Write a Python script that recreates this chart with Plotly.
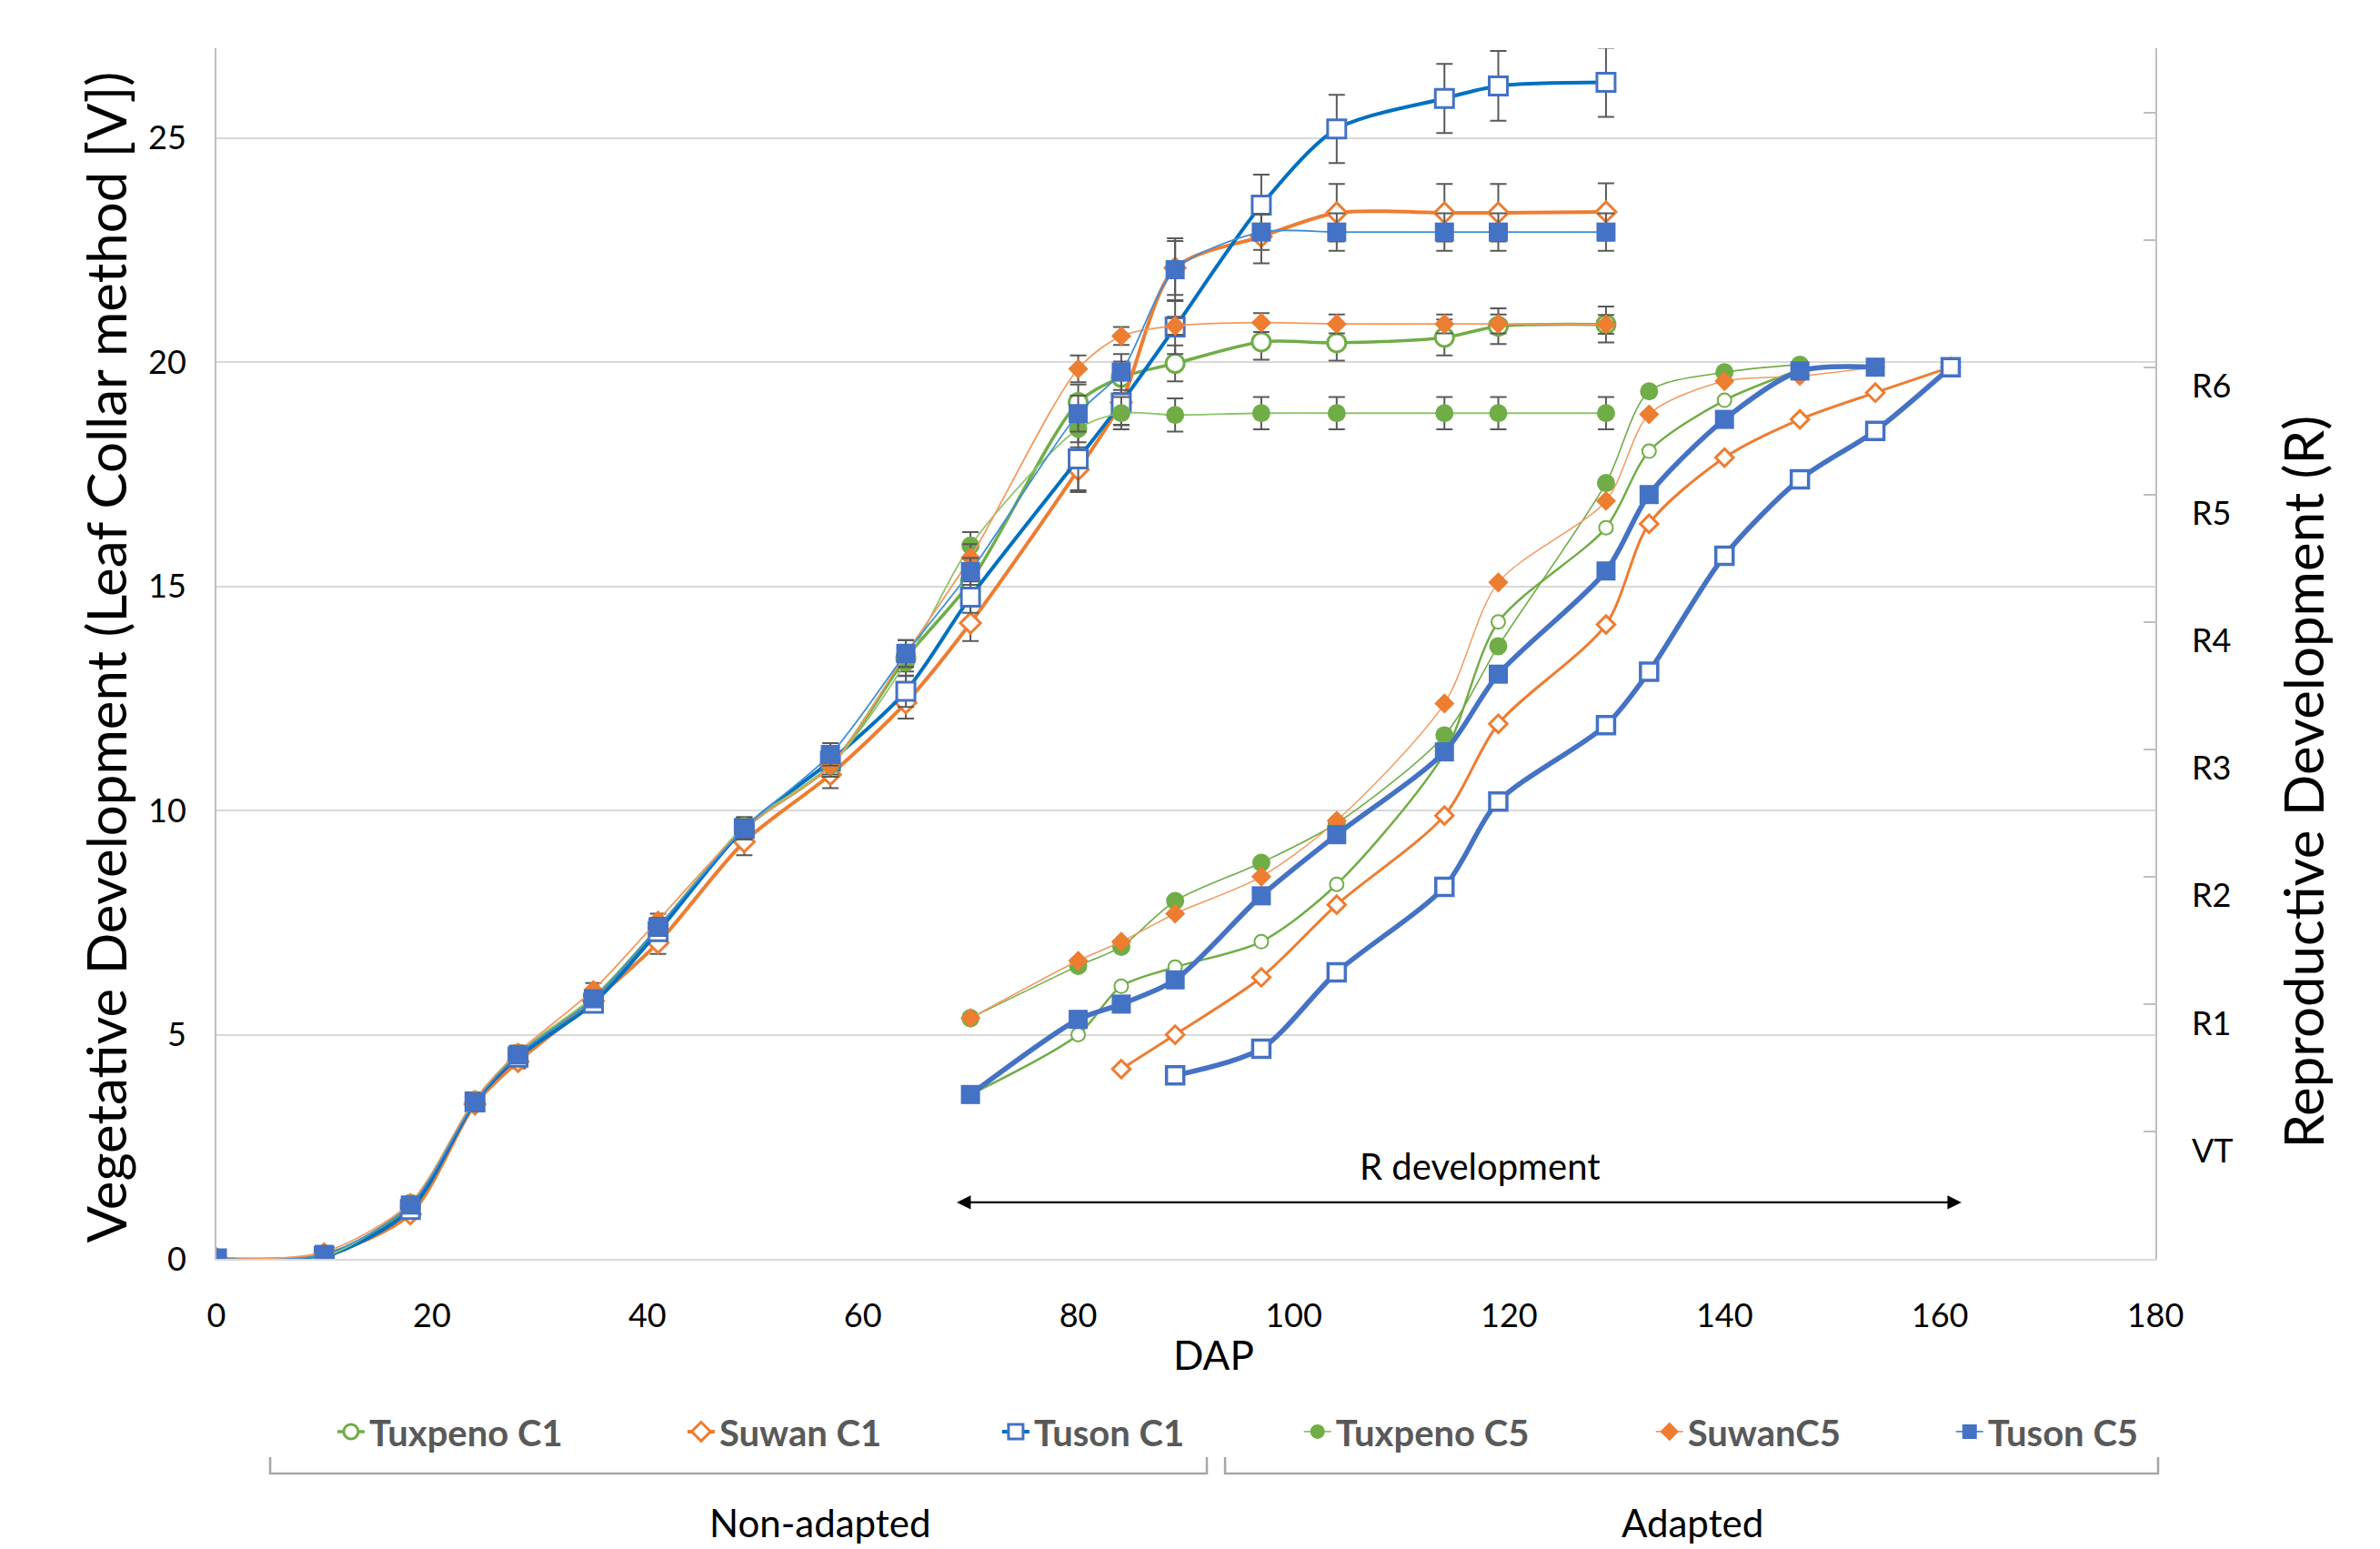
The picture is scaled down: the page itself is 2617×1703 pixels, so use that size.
import plotly.graph_objects as go

# ---------------- data ----------------
DAP_V = [0, 10, 18, 24, 28, 35, 41, 49, 57, 64, 70, 80, 84, 89, 97, 104, 114, 119, 129]

V_TUXPENO_C1 = [0, 0.05, 1.15, 3.5, 4.55, 5.8, 7.35, 9.6, 11.0, 13.4, 15.1, 19.1, 19.66, 19.97, 20.45, 20.43, 20.55, 20.8, 20.84]
V_SUWAN_C1 = [0, 0.1, 1.0, 3.45, 4.4, 5.75, 7.05, 9.3, 10.8, 12.4, 14.18, 17.6, 19.1, 22.1, 22.8, 23.33, 23.33, 23.33, 23.35]
V_TUSON_C1 = [0, 0.05, 1.1, 3.5, 4.5, 5.7, 7.3, 9.6, 11.1, 12.66, 14.76, 17.84, 19.09, 20.78, 23.5, 25.2, 25.88, 26.16, 26.24]
V_TUXPENO_C5 = [0, 0.05, 1.25, 3.55, 4.6, 5.85, 7.4, 9.65, 11.0, 13.3, 15.91, 18.51, 18.86, 18.82, 18.86, 18.86, 18.86, 18.86, 18.86]
V_SUWAN_C5 = [0, 0.15, 1.25, 3.55, 4.6, 6.0, 7.55, 9.6, 11.0, 13.5, 15.64, 19.85, 20.58, 20.81, 20.88, 20.85, 20.85, 20.85, 20.84]
V_TUSON_C5 = [0, 0.1, 1.2, 3.5, 4.55, 5.8, 7.4, 9.6, 11.25, 13.5, 15.33, 18.85, 19.78, 22.06, 22.9, 22.9, 22.9, 22.9, 22.9]

ERR_TUXPENO_C1 = [0, 0.05, 0.1, 0.15, 0.15, 0.15, 0.2, 0.2, 0.25, 0.3, 0.35, 0.4, 0.35, 0.4, 0.4, 0.4, 0.4, 0.4, 0.4]
ERR_SUWAN_C1 = [0, 0.05, 0.1, 0.15, 0.15, 0.15, 0.25, 0.3, 0.3, 0.35, 0.4, 0.5, 0.5, 0.6, 0.6, 0.64, 0.64, 0.64, 0.64]
ERR_TUSON_C1 = [0, 0.05, 0.1, 0.15, 0.15, 0.15, 0.2, 0.25, 0.3, 0.35, 0.35, 0.7, 0.5, 0.6, 0.68, 0.76, 0.77, 0.78, 0.77]
ERR_TUXPENO_C5 = [0, 0.05, 0.1, 0.15, 0.15, 0.15, 0.2, 0.2, 0.25, 0.3, 0.3, 0.3, 0.36, 0.37, 0.36, 0.36, 0.36, 0.36, 0.36]
ERR_SUWAN_C5 = [0, 0.05, 0.1, 0.15, 0.15, 0.15, 0.15, 0.2, 0.25, 0.3, 0.3, 0.3, 0.2, 0.2, 0.21, 0.21, 0.21, 0.21, 0.21]
ERR_TUSON_C5 = [0, 0.05, 0.1, 0.15, 0.15, 0.15, 0.2, 0.2, 0.25, 0.3, 0.3, 0.4, 0.4, 0.7, 0.4, 0.42, 0.42, 0.42, 0.42]

# Reproductive stage (secondary axis: VT=1, R1=2 ... R6=7)
R_DAP_TUXPENO_C1 = [70, 80, 84, 89, 97, 104, 114, 119, 129, 133, 140, 147]
R_TUXPENO_C1 = [1.29, 1.76, 2.14, 2.29, 2.49, 2.94, 3.97, 5.0, 5.74, 6.34, 6.74, 6.98]
R_DAP_TUXPENO_C5 = [70, 80, 84, 89, 97, 104, 114, 119, 129, 133, 140, 147]
R_TUXPENO_C5 = [1.89, 2.30, 2.45, 2.81, 3.11, 3.42, 4.11, 4.81, 6.09, 6.81, 6.96, 7.02]
R_DAP_SUWAN_C1 = [84, 89, 97, 104, 114, 119, 129, 133, 140, 147, 154, 161]
R_SUWAN_C1 = [1.49, 1.76, 2.21, 2.78, 3.48, 4.2, 4.98, 5.77, 6.29, 6.59, 6.80, 7.0]
R_DAP_SUWAN_C5 = [70, 80, 84, 89, 97, 104, 114, 119, 129, 133, 140, 147, 154]
R_SUWAN_C5 = [1.89, 2.34, 2.49, 2.71, 3.0, 3.44, 4.36, 5.31, 5.95, 6.63, 6.89, 6.93, 7.0]
R_DAP_TUSON_C1 = [89, 97, 104, 114, 119, 129, 133, 140, 147, 154, 161]
R_TUSON_C1 = [1.44, 1.65, 2.25, 2.92, 3.59, 4.19, 4.61, 5.52, 6.12, 6.5, 7.0]
R_DAP_TUSON_C5 = [70, 80, 84, 89, 97, 104, 114, 119, 129, 133, 140, 147, 154]
R_TUSON_C5 = [1.29, 1.88, 2.0, 2.19, 2.85, 3.33, 3.98, 4.59, 5.40, 6.0, 6.59, 6.97, 7.0]

SERIES_NAMES = ["Tuxpeno C1", "Suwan C1", "Tuson C1", "Tuxpeno C5", "SuwanC5", "Tuson C5"]
GROUP_LABELS = ["Non-adapted", "Adapted"]

X_TICKS = [0, 20, 40, 60, 80, 100, 120, 140, 160, 180]
Y_TICKS = [0, 5, 10, 15, 20, 25]
R_STAGE_VALUES = [1, 2, 3, 4, 5, 6, 7]
R_STAGE_LABELS = ["VT", "R1", "R2", "R3", "R4", "R5", "R6"]
Y2_TICKS = [0, 1, 2, 3, 4, 5, 6, 7, 8, 9]

ARROW_X = [68.6, 162.0]
ARROW_Y = 1.26

# ---------------- style ----------------
FONT = "Lato, 'Noto Sans', sans-serif"
GREEN = "#70AD47"
ORANGE = "#ED7D31"
BLUE_M = "#4472C4"
BLUE_L = "#0070C0"
GREEN_T = "#8CC46A"
ORANGE_T = "#F29A5E"
BLUE_T = "#3D8FD9"
ERRC = "#595959"

Y_RANGE = [0, 27]
Y2_RANGE = [0, 27 * 49.28 / 140]

fig = go.Figure()


def veg(name, y, err, lcolor, lwidth, marker, legend, lw):
    fig.add_trace(go.Scatter(
        x=DAP_V, y=y, name=name, mode="lines+markers",
        line=dict(color=lcolor, width=lwidth, shape="spline", smoothing=0.8),
        marker=marker,
        error_y=dict(type="data", array=err, color=ERRC, thickness=2, width=9),
        legend=legend, legendwidth=lw,
    ))


def rep(x, y, lcolor, lwidth, marker):
    fig.add_trace(go.Scatter(
        x=x, y=y, yaxis="y2", mode="lines+markers", showlegend=False,
        line=dict(color=lcolor, width=lwidth, shape="spline", smoothing=0.8),
        marker=marker,
    ))


veg(SERIES_NAMES[0], V_TUXPENO_C1, ERR_TUXPENO_C1, GREEN, 3.5,
    dict(symbol="circle", size=20, color="white", line=dict(color=GREEN, width=3)), "legend", 340)
veg(SERIES_NAMES[1], V_SUWAN_C1, ERR_SUWAN_C1, ORANGE, 4,
    dict(symbol="diamond", size=17, color="white", line=dict(color=ORANGE, width=3)), "legend", 301)
veg(SERIES_NAMES[2], V_TUSON_C1, ERR_TUSON_C1, BLUE_L, 4,
    dict(symbol="square", size=20, color="white", line=dict(color=BLUE_M, width=3)), "legend", 250)
veg(SERIES_NAMES[3], V_TUXPENO_C5, ERR_TUXPENO_C5, GREEN_T, 1.8,
    dict(symbol="circle", size=20, color=GREEN), "legend2", 342)
veg(SERIES_NAMES[4], V_SUWAN_C5, ERR_SUWAN_C5, ORANGE_T, 1.8,
    dict(symbol="diamond", size=17, color=ORANGE), "legend2", 285)
veg(SERIES_NAMES[5], V_TUSON_C5, ERR_TUSON_C5, BLUE_T, 1.8,
    dict(symbol="square", size=21, color=BLUE_M), "legend2", 250)

rep(R_DAP_TUXPENO_C1, R_TUXPENO_C1, GREEN, 2.5,
    dict(symbol="circle", size=15, color="white", line=dict(color=GREEN, width=2)))
rep(R_DAP_SUWAN_C1, R_SUWAN_C1, ORANGE, 3,
    dict(symbol="diamond", size=15, color="white", line=dict(color=ORANGE, width=3)))
rep(R_DAP_TUSON_C1, R_TUSON_C1, BLUE_M, 5.5,
    dict(symbol="square", size=19, color="white", line=dict(color=BLUE_M, width=3.5)))
rep(R_DAP_TUXPENO_C5, R_TUXPENO_C5, GREEN, 1.6,
    dict(symbol="circle", size=20, color=GREEN))
rep(R_DAP_SUWAN_C5, R_SUWAN_C5, ORANGE_T, 1.5,
    dict(symbol="diamond", size=17, color=ORANGE))
rep(R_DAP_TUSON_C5, R_TUSON_C5, BLUE_M, 5.5,
    dict(symbol="square", size=21, color=BLUE_M))

annotations = []
# right-axis stage labels
for v, lab in zip(R_STAGE_VALUES, R_STAGE_LABELS):
    annotations.append(dict(x=1.0178, xref="paper", y=v - 0.14, yref="y2", text=lab,
                            showarrow=False, xanchor="left", yanchor="middle",
                            font=dict(family=FONT, size=36, color="black")))
# axis titles
annotations.append(dict(x=-0.0568, xref="paper", y=0.497, yref="paper",
                        text="Vegetative Development (Leaf Collar method [V])",
                        textangle=-90, showarrow=False, xanchor="center", yanchor="middle",
                        font=dict(family=FONT, size=60, color="black")))
annotations.append(dict(x=1.076, xref="paper", y=0.394, yref="paper",
                        text="Reproductive Development (R)",
                        textangle=-90, showarrow=False, xanchor="center", yanchor="middle",
                        font=dict(family=FONT, size=60, color="black")))
annotations.append(dict(x=0.5145, xref="paper", y=-0.0789, yref="paper", text="DAP",
                        showarrow=False, xanchor="center", yanchor="middle",
                        font=dict(family=FONT, size=44, color="black")))
# R development arrow
annotations.append(dict(x=ARROW_X[1], y=ARROW_Y, xref="x", yref="y",
                        ax=ARROW_X[0], ay=ARROW_Y, axref="x", ayref="y",
                        text="", showarrow=True, arrowhead=2, arrowside="end+start",
                        arrowsize=1.4, arrowwidth=2.2, arrowcolor="black", standoff=0,
                        startstandoff=0))
annotations.append(dict(x=117.3, y=2.07, xref="x", yref="y", text="R development",
                        showarrow=False, xanchor="center", yanchor="middle",
                        font=dict(family=FONT, size=40, color="black")))
# group labels
annotations.append(dict(x=0.311, xref="paper", y=-0.2179, yref="paper", text=GROUP_LABELS[0],
                        showarrow=False, xanchor="center", yanchor="middle",
                        font=dict(family=FONT, size=42, color="black")))
annotations.append(dict(x=0.7613, xref="paper", y=-0.2179, yref="paper", text=GROUP_LABELS[1],
                        showarrow=False, xanchor="center", yanchor="middle",
                        font=dict(family=FONT, size=42, color="black")))

shapes = []
for x0, x1 in [(0.0277, 0.5108), (0.5202, 1.0014)]:
    shapes.append(dict(type="path", xref="paper", yref="paper",
                       path=f"M {x0},-0.1638 L {x0},-0.1773 L {x1},-0.1773 L {x1},-0.1638",
                       line=dict(color="#a6a6a6", width=2.5)))

legend_style = dict(orientation="h", xanchor="left", y=-0.1427, yanchor="middle",
                    font=dict(family=FONT, size=40, color="#595959", weight="bold"),
                    bgcolor="rgba(0,0,0,0)", itemwidth=30, tracegroupgap=0)

fig.update_layout(
    width=2617, height=1703,
    margin=dict(l=230, r=255, t=45, b=327, autoexpand=False),
    paper_bgcolor="white", plot_bgcolor="white",
    font=dict(family=FONT, color="black"),
    xaxis=dict(range=[0, 180], tickvals=X_TICKS, showgrid=False, zeroline=False,
               showline=True, linecolor="#d9d9d9", linewidth=2, ticks="",
               tickfont=dict(size=36, color="black"), ticklabelstandoff=30),
    yaxis=dict(range=Y_RANGE, tickvals=Y_TICKS, showgrid=True, gridcolor="#d9d9d9",
               gridwidth=2, zeroline=False, showline=True, linecolor="#bfbfbf",
               linewidth=2, ticks="", tickfont=dict(size=36, color="black"),
               ticklabelstandoff=24),
    yaxis2=dict(range=Y2_RANGE, overlaying="y", side="right", tickvals=Y2_TICKS,
                showticklabels=False, ticks="inside", ticklen=13, tickcolor="#bfbfbf",
                tickwidth=2, showline=True, linecolor="#bfbfbf", linewidth=2,
                showgrid=False, zeroline=False),
    legend=dict(x=0.060, **legend_style),
    legend2=dict(x=0.5585, **legend_style),
    annotations=annotations,
    shapes=shapes,
)

fig.write_html("out.html")
